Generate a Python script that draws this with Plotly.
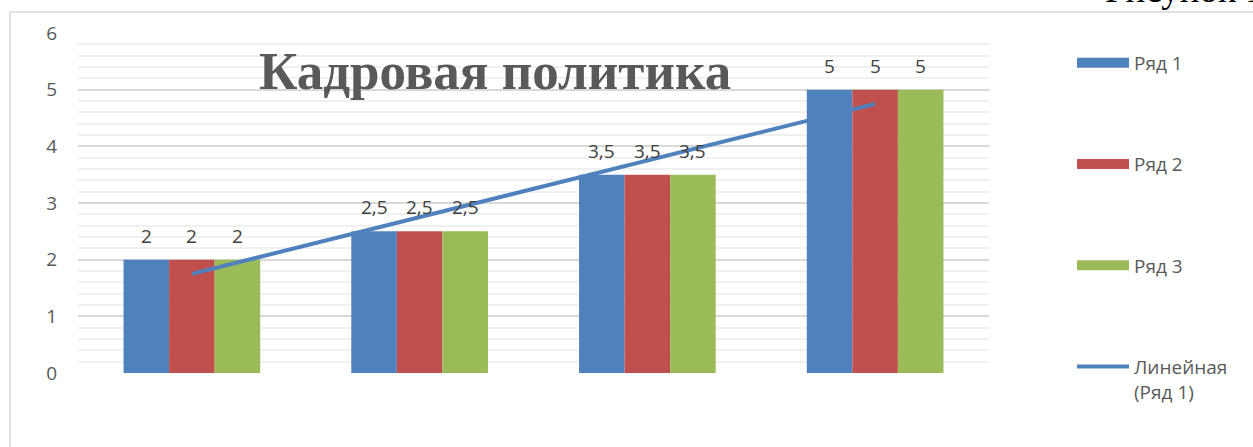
import numpy as np
import plotly.graph_objects as go

# ---- data ----
categories = [1, 2, 3, 4]
series_names = ["Ряд 1", "Ряд 2", "Ряд 3"]
ryad1 = [2, 2.5, 3.5, 5]
ryad2 = [2, 2.5, 3.5, 5]
ryad3 = [2, 2.5, 3.5, 5]
y_ticks = [0, 1, 2, 3, 4, 5, 6]
title_text = "Кадровая политика"
trend_name = "Линейная<br>(Ряд 1)"
caption_text = "Рисунок 1"

colors = ["#4f81bd", "#c0504d", "#9bbb59"]
series_values = [ryad1, ryad2, ryad3]

W, H = 1253, 447
L, R, T, B = 78, 264, 33, 74
pw, ph = W - L - R, H - T - B


def px_x(p):
    return (p - L) / pw


def px_y(p):
    return (H - B - p) / ph


xpos = list(range(len(categories)))

fig = go.Figure()

for name, vals, col in zip(series_names, series_values, colors):
    fig.add_trace(go.Bar(
        x=xpos, y=vals, name=name, marker=dict(color=col, line=dict(width=0)),
        showlegend=False, hoverinfo="y"))

# trendline for Ряд 1 (least squares, like Excel's linear trendline)
coef = np.polyfit(categories, ryad1, 1)
trend_x = [xpos[0], xpos[-1]]
trend_y = [float(np.polyval(coef, categories[0])), float(np.polyval(coef, categories[-1]))]
fig.add_trace(go.Scatter(
    x=trend_x, y=trend_y, mode="lines", line=dict(color="#4f81bd", width=4),
    showlegend=False, hoverinfo="skip"))

# legend entries (wide swatches)
for i, (name, col) in enumerate(zip(series_names, colors)):
    fig.add_trace(go.Scatter(
        x=[None], y=[None], mode="lines", name=name, legendgroup=f"g{i}",
        line=dict(color=col, width=14)))
fig.add_trace(go.Scatter(
    x=[None], y=[None], mode="lines", name=trend_name, legendgroup="g3",
    line=dict(color="#4f81bd", width=4)))

# data labels
n = len(series_names)
bw = 0.6 / n
annotations = []
for s, vals in enumerate(series_values):
    off = (s - (n - 1) / 2) * bw
    for xi, v in zip(xpos, vals):
        annotations.append(dict(
            x=xi + off, y=v, xref="x", yref="y", yshift=24,
            text=f"{v:g}".replace(".", ","), showarrow=False,
            font=dict(family="Open Sans", size=19, color="#404040")))

annotations.append(dict(
    x=px_x(495), y=px_y(71), xref="paper", yref="paper", xanchor="center",
    yanchor="middle", text=f"<b>{title_text}</b>", showarrow=False,
    font=dict(family="Liberation Serif", size=53, color="#595959")))
annotations.append(dict(
    x=px_x(1103), y=px_y(12), xref="paper", yref="paper", xanchor="left",
    yanchor="bottom", text=caption_text, showarrow=False,
    font=dict(family="Liberation Serif", size=37, color="#000000")))

fig.update_layout(
    width=W, height=H,
    margin=dict(l=L, r=R, t=T, b=B, autoexpand=False),
    paper_bgcolor="white", plot_bgcolor="white",
    barmode="group", bargap=0.4, bargroupgap=0,
    annotations=annotations,
    shapes=[dict(type="rect", xref="paper", yref="paper",
                 x0=px_x(10), x1=px_x(1300), y0=px_y(470), y1=px_y(12),
                 line=dict(color="#d9d9d9", width=1.5), layer="below")],
    legend=dict(x=px_x(1072), y=px_y(44), xanchor="left", yanchor="top",
                font=dict(family="Open Sans", size=19, color="#595959"),
                tracegroupgap=73.5, itemwidth=52, valign="top",
                maxheight=440, bgcolor="rgba(0,0,0,0)"),
    xaxis=dict(range=[-0.5, len(categories) - 0.5], showticklabels=False,
               showgrid=False, zeroline=False, fixedrange=True),
    yaxis=dict(range=[0, 6], tickvals=y_ticks, showgrid=True,
               gridcolor="#d9d9d9", gridwidth=1.5, zeroline=False,
               ticklabelstandoff=20,
               tickfont=dict(family="Open Sans", size=19, color="#595959"),
               minor=dict(dtick=0.2, showgrid=True, gridcolor="#f0f0f0", gridwidth=1.5)),
)

fig.write_html("out.html", config={"displayModeBar": False},
               post_script="document.body.style.margin='0';document.body.style.overflow='hidden';")
